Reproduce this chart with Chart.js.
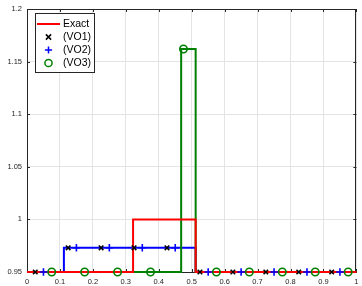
<!DOCTYPE html>
<html><head><meta charset="utf-8">
<script src="https://cdn.jsdelivr.net/npm/chart.js@4.4.1/dist/chart.umd.min.js"></script>
<style>html,body{margin:0;padding:0;background:#fff;overflow:hidden}canvas{display:block}</style>
</head><body>
<canvas id="c" width="362" height="286"></canvas>
<script>
// ---- data ----
const xTicks = [0, 0.1, 0.2, 0.3, 0.4, 0.5, 0.6, 0.7, 0.8, 0.9, 1];
const xTickLabels = ['0', '0.1', '0.2', '0.3', '0.4', '0.5', '0.6', '0.7', '0.8', '0.9', '1'];
const yTicks = [0.95, 1, 1.05, 1.1, 1.15, 1.2];
const yTickLabels = ['0.95', '1', '1.05', '1.1', '1.15', '1.2'];
const seriesNames = ['Exact', '(VO1)', '(VO2)', '(VO3)'];

const exactX = [0, 0.322, 0.322, 0.512, 0.512, 1];
const exactY = [0.95, 0.95, 1, 1, 0.95, 0.95];
const vo2LineX = [0, 0.112, 0.112, 0.512, 0.512, 1];
const vo2LineY = [0.95, 0.95, 0.973, 0.973, 0.95, 0.95];
const vo3LineX = [0, 0.468, 0.468, 0.512, 0.512, 1];
const vo3LineY = [0.95, 0.95, 1.162, 1.162, 0.95, 0.95];

const vo1MarkX = [0.025, 0.125, 0.225, 0.325, 0.425, 0.525, 0.625, 0.725, 0.825, 0.925];
const vo1MarkY = [0.95, 0.973, 0.973, 0.973, 0.973, 0.95, 0.95, 0.95, 0.95, 0.95];
const vo2MarkX = [0.05, 0.15, 0.25, 0.35, 0.45, 0.55, 0.65, 0.75, 0.85, 0.95];
const vo2MarkY = [0.95, 0.973, 0.973, 0.973, 0.973, 0.95, 0.95, 0.95, 0.95, 0.95];
const vo3MarkX = [0.075, 0.175, 0.275, 0.375, 0.475, 0.575, 0.675, 0.775, 0.875, 0.975];
const vo3MarkY = [0.95, 0.95, 0.95, 0.95, 1.162, 0.95, 0.95, 0.95, 0.95, 0.95];

// ---- styling ----
const RED = '#ff0000', BLUE = '#0000ff', GREEN = '#008000', BLACK = '#000000';
const AXIS = '#262626', GRID = '#e4e4e4';
const FONT = '"Liberation Sans", Arial, Helvetica, sans-serif';

const pts = (xs, ys) => xs.map((x, i) => ({x: x, y: ys[i]}));

function legendSymbol(kind, color) {
  const c = document.createElement('canvas');
  if (kind === 'line') { c.width = 23; c.height = 2; }
  else { c.width = 9; c.height = 10; }
  const g = c.getContext('2d');
  g.strokeStyle = color; g.fillStyle = color;
  const cx = c.width / 2, cy = c.height / 2;
  g.beginPath();
  if (kind === 'line') { g.lineWidth = 2; g.moveTo(0, 1); g.lineTo(23, 1); }
  else if (kind === 'x') { g.lineWidth = 1.5; const r = 2.6; g.moveTo(cx - r, cy - r); g.lineTo(cx + r, cy + r); g.moveTo(cx - r, cy + r); g.lineTo(cx + r, cy - r); }
  else if (kind === '+') { g.lineWidth = 1.5; const r = 3.6; g.moveTo(cx - r, cy); g.lineTo(cx + r, cy); g.moveTo(cx, cy - r); g.lineTo(cx, cy + r); }
  else if (kind === 'o') { g.lineWidth = 1.5; g.arc(cx, cy, 3.6, 0, Math.PI * 2); }
  g.stroke();
  return c;
}
const legendSymbols = [legendSymbol('line', RED), legendSymbol('x', BLACK), legendSymbol('+', BLUE), legendSymbol('o', GREEN)];
const legendColors = [RED, BLACK, BLUE, GREEN];

const matlabFrame = {
  id: 'matlabFrame',
  afterLayout(chart) {
    const lg = chart.legend, ca = chart.chartArea;
    if (lg) { lg.left = ca.left + 9.75; lg.top = ca.top + 7.25; }
  },
  beforeDatasetsDraw(chart) {
    const {ctx, chartArea: ca, scales} = chart;
    ctx.save();
    ctx.strokeStyle = AXIS; ctx.lineWidth = 1;
    ctx.beginPath();
    xTicks.forEach(v => {
      const px = Math.round(scales.x.getPixelForValue(v)) + 0.5;
      ctx.moveTo(px, ca.bottom); ctx.lineTo(px, ca.bottom - 3);
      ctx.moveTo(px, ca.top); ctx.lineTo(px, ca.top + 3);
    });
    yTicks.forEach(v => {
      const py = Math.round(scales.y.getPixelForValue(v)) + 0.5;
      ctx.moveTo(ca.left, py); ctx.lineTo(ca.left + 3, py);
      ctx.moveTo(ca.right, py); ctx.lineTo(ca.right - 3, py);
    });
    ctx.stroke();
    ctx.beginPath();
    ctx.moveTo(ca.left, Math.round(ca.top) + 0.5); ctx.lineTo(ca.right, Math.round(ca.top) + 0.5);
    ctx.moveTo(Math.round(ca.right) - 0.5, ca.top); ctx.lineTo(Math.round(ca.right) - 0.5, ca.bottom);
    ctx.stroke();
    ctx.restore();
  },
  afterDraw(chart) {
    const {ctx, chartArea: ca} = chart;
    const lg = chart.legend;
    if (!lg) return;
    ctx.save();
    ctx.font = '10.5px ' + FONT;
    const tw = Math.max(...seriesNames.map(s => ctx.measureText(s).width));
    const left = Math.round(ca.left + 8) + 0.5;
    const top = Math.round(ca.top + 4) + 0.5;
    const right = Math.round(lg.left + 2.5 + 18.5 + 5.25 + tw + 3) + 0.5;
    const bottom = top + 59;
    ctx.fillStyle = '#ffffff';
    ctx.fillRect(left, top, right - left, bottom - top);
    ctx.strokeStyle = AXIS; ctx.lineWidth = 1;
    ctx.strokeRect(left, top, right - left, bottom - top);
    ctx.restore();
    lg.draw();
  }
};

new Chart(document.getElementById('c'), {
  type: 'scatter',
  data: {
    datasets: [
      {label: seriesNames[1], data: pts(vo1MarkX, vo1MarkY), showLine: false, pointStyle: 'crossRot',
       pointRadius: 3.2, pointBorderWidth: 1.6, pointBorderColor: BLACK, pointBackgroundColor: BLACK, borderColor: BLACK, clip: false},
      {label: seriesNames[2], data: pts(vo2MarkX, vo2MarkY), showLine: false, pointStyle: 'cross',
       pointRadius: 3.8, pointBorderWidth: 1.6, pointBorderColor: BLUE, pointBackgroundColor: BLUE, borderColor: BLUE, clip: false},
      {label: seriesNames[3], data: pts(vo3MarkX, vo3MarkY), showLine: false, pointStyle: 'circle',
       pointRadius: 3.7, pointBorderWidth: 1.6, pointBorderColor: GREEN, pointBackgroundColor: 'rgba(0,0,0,0)', borderColor: GREEN, clip: false},
      {label: seriesNames[0], data: pts(exactX, exactY), showLine: true, pointRadius: 0, borderColor: RED, borderWidth: 2, tension: 0, fill: false, clip: false},
      {label: 'VO3 line', data: pts(vo3LineX, vo3LineY), showLine: true, pointRadius: 0, borderColor: GREEN, borderWidth: 2, tension: 0, fill: false, clip: false},
      {label: 'VO2 line', data: pts(vo2LineX, vo2LineY), showLine: true, pointRadius: 0, borderColor: BLUE, borderWidth: 2, tension: 0, fill: false, clip: false}
    ]
  },
  options: {
    responsive: false,
    animation: false,
    events: [],
    layout: {padding: {top: 9, right: 2, left: 0, bottom: 0}},
    plugins: {
      tooltip: {enabled: false},
      title: {display: false},
      legend: {
        display: true,
        position: 'chartArea',
        align: 'start',
        labels: {
          usePointStyle: true,
          pointStyleWidth: 18.5,
          padding: 2.5,
          color: BLACK,
          font: {family: FONT, size: 10.5},
          generateLabels: () => seriesNames.map((name, i) => ({
            text: name, pointStyle: legendSymbols[i], fillStyle: legendColors[i], strokeStyle: legendColors[i],
            lineWidth: 0, hidden: false, fontColor: BLACK, datasetIndex: i
          }))
        }
      }
    },
    scales: {
      x: {
        type: 'linear', min: 0, max: 1,
        afterBuildTicks: s => { s.ticks = xTicks.map(v => ({value: v})); },
        afterFit: s => { s.height = 14; s.paddingLeft = 0; s.paddingRight = 0; },
        ticks: {padding: 5.5, color: AXIS, font: {family: FONT, size: 7.5}, maxRotation: 0, autoSkip: false,
                callback: (v, i) => xTickLabels[i]},
        grid: {color: GRID, lineWidth: 1, drawTicks: false},
        border: {display: true, color: AXIS, width: 1}
      },
      y: {
        type: 'linear', min: 0.95, max: 1.2,
        afterBuildTicks: s => { s.ticks = yTicks.map(v => ({value: v})); },
        afterFit: s => { s.width = 27; s.paddingTop = 0; s.paddingBottom = 0; },
        ticks: {padding: 5, color: AXIS, font: {family: FONT, size: 7.5}, autoSkip: false,
                callback: (v, i) => yTickLabels[i]},
        grid: {color: GRID, lineWidth: 1, drawTicks: false},
        border: {display: true, color: AXIS, width: 1}
      }
    }
  },
  plugins: [matlabFrame]
});
</script>
</body></html>
